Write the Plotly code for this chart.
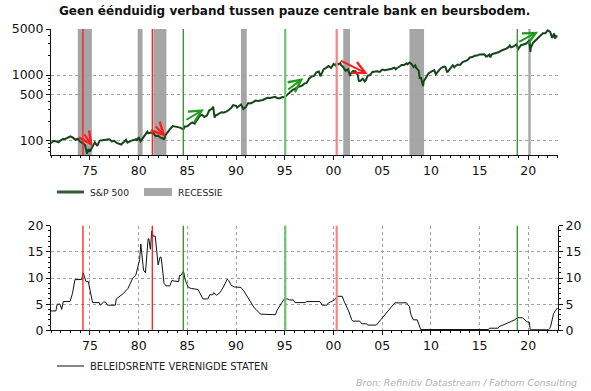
import math
import plotly.graph_objects as go

W, H = 591, 391

# ---------------- data ----------------
sp_year = [1971.0,1971.25,1971.5,1971.75,1972.0,1972.25,1972.5,1972.75,1973.0,1973.25,1973.5,1973.75,
           1974.0,1974.25,1974.5,1974.7,1974.85,1975.0,1975.25,1975.5,1975.75,1976.0,1976.25,1976.5,1976.75,
           1977.0,1977.25,1977.5,1977.75,1978.0,1978.2,1978.5,1978.7,1978.85,1979.0,1979.25,1979.5,1979.75,1979.85,
           1980.0,1980.2,1980.5,1980.75,1980.9,1981.0,1981.25,1981.5,1981.75,1982.0,1982.25,1982.5,1982.6,1982.75,
           1983.0,1983.25,1983.5,1983.75,1984.0,1984.25,1984.5,1984.6,1984.75,1985.0,1985.25,1985.5,1985.75,
           1986.0,1986.25,1986.5,1986.75,1987.0,1987.25,1987.5,1987.65,1987.8,1987.9,1988.0,1988.25,1988.5,1988.75,
           1989.0,1989.25,1989.5,1989.7,1989.85,1990.0,1990.1,1990.25,1990.5,1990.75,1990.9,1991.0,1991.25,1991.5,1991.75,
           1992.0,1992.25,1992.5,1992.75,1993.0,1993.25,1993.5,1993.75,1994.0,1994.25,1994.5,1994.75,
           1995.0,1995.25,1995.5,1995.75,1996.0,1996.25,1996.5,1996.75,1997.0,1997.25,1997.5,1997.75,
           1998.0,1998.25,1998.5,1998.65,1998.75,1999.0,1999.25,1999.5,1999.75,2000.0,2000.2,2000.3,2000.5,2000.7,2000.75,
           2001.0,2001.25,2001.5,2001.7,2001.75,2002.0,2002.25,2002.5,2002.6,2002.75,2003.0,2003.2,2003.35,2003.5,2003.75,
           2004.0,2004.25,2004.5,2004.75,2005.0,2005.25,2005.5,2005.75,2006.0,2006.25,2006.4,2006.5,2006.75,
           2007.0,2007.25,2007.5,2007.6,2007.75,2007.8,2008.0,2008.25,2008.4,2008.5,2008.75,2008.85,2009.0,2009.15,2009.2,
           2009.25,2009.5,2009.75,2010.0,2010.25,2010.35,2010.5,2010.75,2011.0,2011.25,2011.4,2011.5,2011.65,2011.75,
           2012.0,2012.25,2012.4,2012.5,2012.75,2013.0,2013.25,2013.5,2013.75,2014.0,2014.25,2014.5,2014.75,
           2015.0,2015.25,2015.5,2015.65,2015.75,2016.0,2016.1,2016.25,2016.5,2016.75,2017.0,2017.25,2017.5,2017.75,
           2018.0,2018.1,2018.25,2018.5,2018.75,2018.98,2019.25,2019.5,2019.75,2020.0,2020.1,2020.22,2020.25,2020.5,2020.75,
           2021.0,2021.25,2021.5,2021.75,2022.0,2022.25,2022.45,2022.5,2022.65,2022.75,2022.85,2023.0]
sp_value = [92,100,99,95,102,107,108,111,117,112,104,108,
            97,93,86,64,75,69,83,95,84,101,102,104,105,
            106,98,100,93,90,88,97,104,94,97,101,103,106,101,
            114,99,115,126,138,130,134,131,118,120,112,109,104,122,
            140,153,168,166,164,159,152,150,166,167,181,191,182,
            211,238,250,231,242,291,304,330,225,245,247,258,273,271,
            278,294,317,350,340,340,322,339,358,306,322,326,375,371,388,
            410,403,408,418,436,451,450,458,468,446,444,462,
            459,500,545,584,615,645,670,687,740,757,885,947,
            970,1101,1133,957,1017,1229,1286,1373,1282,1469,1400,1498,1455,1517,1436,
            1320,1160,1224,965,1040,1148,1147,990,820,815,880,800,850,975,1000,
            1112,1126,1140,1114,1212,1180,1191,1228,1248,1294,1223,1270,1335,
            1418,1420,1503,1455,1526,1549,1468,1322,1400,1280,1166,900,903,735,676,
            797,919,1057,1115,1169,1187,1030,1141,1258,1326,1345,1320,1120,1131,
            1258,1408,1310,1362,1440,1426,1569,1606,1681,1848,1872,1960,1972,
            2058,2068,2063,1920,1920,2044,1860,2060,2099,2168,2238,2363,2423,2519,
            2673,2820,2640,2718,2914,2506,2834,2942,2977,3231,3380,2237,2584,3100,3363,
            3756,3973,4298,4307,4766,4530,3670,3785,4280,3585,3900,3840]

fed_year = [1971.0,1971.5,1971.64,1971.92,1972.1,1972.26,1972.95,1973.2,1973.46,1974.15,1974.3,1974.6,1974.83,
            1975.27,1975.96,1976.05,1976.4,1976.6,1976.8,1977.6,1977.7,1978.4,1978.9,1979.4,1979.7,1980.0,1980.1,
            1980.22,1980.5,1980.7,1980.97,1981.05,1981.2,1981.35,1981.5,1981.7,1982.0,1982.2,1982.3,1982.4,1982.6,
            1982.8,1983.2,1983.4,1984.1,1984.2,1984.35,1984.6,1984.8,1985.1,1985.4,1986.1,1986.3,1986.6,1987.1,
            1987.3,1987.6,1987.7,1988.0,1988.35,1988.7,1988.85,1989.1,1989.25,1989.5,1989.8,1990.5,1990.8,1991.2,
            1991.35,1991.6,1991.9,1992.05,1992.5,1993.7,1994.05,1994.2,1994.4,1994.7,1994.95,1995.3,1995.5,1995.87,
            1996.05,1997.1,1997.25,1998.6,1998.85,1999.3,1999.45,1999.8,2000.1,2000.4,2000.9,2001.1,2001.5,2001.6,
            2001.87,2002.0,2002.7,2002.9,2003.4,2003.5,2004.4,2006.3,2007.5,2007.8,2007.95,2008.2,2008.6,2008.8,
            2008.95,2015.9,2016.0,2016.9,2017.0,2017.4,2017.7,2018.0,2018.25,2018.6,2018.9,2019.4,2019.6,2019.7,
            2019.9,2020.1,2020.2,2022.05,2022.2,2022.3,2022.4,2022.5,2022.6,2022.8,2023.0]
fed_rate = [3.7,3.7,5.0,5.0,4.0,5.5,5.5,7.0,9.7,9.7,11.0,9.3,9.3,
            5.3,5.3,4.8,5.4,5.4,4.8,4.8,6.0,7.0,8.0,10.0,10.5,13.0,13.5,
            16.5,11.5,11.0,17.5,17.5,15.5,19.0,18.0,18.0,12.5,14.0,14.0,12.5,9.0,
            8.5,8.5,9.5,9.3,10.5,10.5,11.3,9.5,8.2,8.0,7.8,7.0,6.0,6.0,
            6.8,6.8,7.2,6.7,7.2,8.3,9.0,9.8,9.5,8.6,8.3,8.2,7.5,6.2,
            5.8,5.0,4.2,4.0,3.1,3.0,3.0,3.8,4.5,5.3,6.0,6.0,5.8,5.8,
            5.3,5.3,5.5,5.5,4.8,4.8,5.2,5.5,5.8,6.5,6.5,5.5,4.0,3.5,
            2.0,1.75,1.75,1.25,1.25,1.0,1.0,5.25,5.25,4.5,3.0,2.0,2.0,1.0,
            0.15,0.15,0.4,0.4,0.7,1.0,1.2,1.4,1.7,2.0,2.4,2.4,2.1,1.8,
            1.6,1.6,0.1,0.1,0.3,0.8,1.6,2.5,3.2,3.8,4.3]

rec_start = [1973.75, 1979.9, 1981.5, 1990.5, 2001.0, 2007.8, 2020.0]
rec_end   = [1975.2, 1980.4, 1982.85, 1991.1, 2001.7, 2009.3, 2020.25]

pause_year  = [1974.28, 1981.4, 1984.58, 1995.05, 2000.33, 2018.87]
pause_color = ["#ff1a1a", "#ff1a1a", "#2e8b2e", "#6cc46c", "#ff8080", "#2e8b2e"]
pause_width = [1.3, 1.3, 1.3, 2.2, 2.2, 1.3]

arrow_x0 = [1974.32, 1981.6, 1984.75, 1995.2, 2000.6, 2018.9]
arrow_y0 = [132, 175, 203, 580, 1693, 3100]
arrow_x1 = [1975.28, 1982.77, 1986.7, 1996.9, 2003.5, 2021.0]
arrow_y1 = [83, 116, 302, 893, 1038, 4550]
arrow_color = ["#ff1a1a", "#ff1a1a", "#1f9a1f", "#1f9a1f", "#ff1a1a", "#1f9a1f"]

year_ticks = [1975, 1980, 1985, 1990, 1995, 2000, 2005, 2010, 2015, 2020]
year_labels = ["75", "80", "85", "90", "95", "00", "05", "10", "15", "20"]
sp_ticks = [100, 500, 1000, 5000]
sp_minor = [70, 80, 90, 200, 300, 400, 600, 700, 800, 900, 2000, 3000, 4000]
rate_ticks = [0, 5, 10, 15, 20]

title_text = "Geen éénduidig verband tussen pauze centrale bank en beursbodem."
legend_sp = "S&P 500"
legend_rec = "RECESSIE"
legend_fed = "BELEIDSRENTE VERENIGDE STATEN"
source_text = "Bron: Refinitiv Datastream / Fathom Consulting"

# ---------------- layout helpers ----------------
def px(x):
    return x / W

def py(y):
    return 1 - y / H

FONT = "DejaVu Sans"
X_RANGE = [1971.0, 2023.05]

fig = go.Figure()

fig.add_trace(go.Scatter(x=sp_year, y=sp_value, mode="lines",
                         line=dict(color="#17451a", width=2), xaxis="x", yaxis="y",
                         showlegend=False, hoverinfo="skip"))
fig.add_trace(go.Scatter(x=fed_year, y=fed_rate, mode="lines",
                         line=dict(color="#111111", width=1), xaxis="x2", yaxis="y2",
                         showlegend=False, hoverinfo="skip"))
fig.add_trace(go.Scatter(x=fed_year, y=fed_rate, mode="lines",
                         line=dict(color="rgba(0,0,0,0)", width=0), xaxis="x2", yaxis="y3",
                         showlegend=False, hoverinfo="skip"))

shapes = []
for s, e in zip(rec_start, rec_end):
    shapes.append(dict(type="rect", xref="x", yref="y domain", x0=s, x1=e, y0=0, y1=1,
                       fillcolor="#a6a6a6", line=dict(width=0), layer="below"))
for yr, c, w in zip(pause_year, pause_color, pause_width):
    shapes.append(dict(type="line", xref="x", yref="y domain", x0=yr, x1=yr, y0=0, y1=1,
                       line=dict(color=c, width=w), layer="above"))
    shapes.append(dict(type="line", xref="x2", yref="y2 domain", x0=yr, x1=yr, y0=0, y1=1,
                       line=dict(color=c, width=w), layer="above"))

# legend swatches
shapes.append(dict(type="line", xref="paper", yref="paper", x0=px(57), x1=px(84), y0=py(192), y1=py(192),
                   line=dict(color="#2f5f2f", width=3)))
shapes.append(dict(type="rect", xref="paper", yref="paper", x0=px(144), x1=px(172), y0=py(196), y1=py(188),
                   fillcolor="#a6a6a6", line=dict(width=0)))
shapes.append(dict(type="line", xref="paper", yref="paper", x0=px(57), x1=px(84), y0=py(366), y1=py(366),
                   line=dict(color="#111111", width=1)))

annotations = []
for x0, y0, x1, y1, c in zip(arrow_x0, arrow_y0, arrow_x1, arrow_y1, arrow_color):
    annotations.append(dict(x=x1, y=math.log10(y1), ax=x0, ay=math.log10(y0), xref="x", yref="y",
                            axref="x", ayref="y", showarrow=True, arrowhead=5, arrowsize=1.2,
                            arrowwidth=2, arrowcolor=c, text=""))

annotations.append(dict(x=px(294), y=py(11), xref="paper", yref="paper", text="<b>" + title_text + "</b>",
                        showarrow=False, xanchor="center", yanchor="middle",
                        font=dict(family=FONT, size=12, color="#111111")))
annotations.append(dict(x=px(88), y=py(192), xref="paper", yref="paper", text=legend_sp, showarrow=False,
                        xanchor="left", yanchor="middle", font=dict(family=FONT, size=9.2, color="#222222")))
annotations.append(dict(x=px(176), y=py(192), xref="paper", yref="paper", text=legend_rec, showarrow=False,
                        xanchor="left", yanchor="middle", font=dict(family=FONT, size=9.2, color="#222222")))
annotations.append(dict(x=px(88), y=py(366), xref="paper", yref="paper", text=legend_fed, showarrow=False,
                        xanchor="left", yanchor="middle", font=dict(family=FONT, size=10, color="#222222")))
annotations.append(dict(x=px(579), y=py(382), xref="paper", yref="paper", text="<i>" + source_text + "</i>",
                        showarrow=False, xanchor="right", yanchor="middle",
                        font=dict(family=FONT, size=9.3, color="#b0b0b0")))

tickfont = dict(family=FONT, size=12.5, color="#111111")
grid = dict(gridcolor="#a0a0a0", griddash="dot", gridwidth=1)

fig.update_layout(
    width=W, height=H, autosize=False,
    margin=dict(l=0, r=0, t=0, b=0, autoexpand=False),
    paper_bgcolor="white", plot_bgcolor="white",
    showlegend=False,
    shapes=shapes, annotations=annotations,
    xaxis=dict(domain=[px(51), px(558)], anchor="y", range=X_RANGE, automargin=False,
               tickvals=year_ticks, ticktext=year_labels, ticks="outside", ticklen=4,
               tickcolor="#111111", showline=True, linecolor="#111111", linewidth=1,
               showgrid=False, zeroline=False, tickfont=tickfont,
               minor=dict(dtick=1, tick0=1971, ticks="outside", ticklen=2, tickcolor="#111111", showgrid=False)),
    yaxis=dict(domain=[py(155), py(29)], anchor="x", type="log", range=[1.786, 3.699], automargin=False,
               tickvals=sp_ticks, ticktext=[str(v) for v in sp_ticks], ticks="outside", ticklen=4,
               tickcolor="#111111", showline=True, linecolor="#111111", linewidth=1,
               showgrid=True, zeroline=False, tickfont=tickfont,
               minor=dict(tickvals=sp_minor, ticks="outside", ticklen=2, tickcolor="#111111", showgrid=False),
               **grid),
    xaxis2=dict(domain=[px(51), px(558)], anchor="y2", range=X_RANGE, automargin=False,
                tickvals=year_ticks, ticktext=year_labels, ticks="outside", ticklen=4,
                tickcolor="#111111", showline=True, linecolor="#111111", linewidth=1,
                showgrid=True, zeroline=False, tickfont=tickfont,
                minor=dict(dtick=1, tick0=1971, ticks="outside", ticklen=2, tickcolor="#111111", showgrid=False),
                **grid),
    yaxis2=dict(domain=[py(330.3), py(225.7)], anchor="x2", range=[0, 20], automargin=False,
                tickvals=rate_ticks, ticks="outside", ticklen=4,
                tickcolor="#111111", showline=True, linecolor="#111111", linewidth=1,
                showgrid=True, zeroline=False, tickfont=tickfont,
                minor=dict(dtick=1, ticks="outside", ticklen=2, tickcolor="#111111", showgrid=False),
                **grid),
    yaxis3=dict(overlaying="y2", anchor="x2", side="right", range=[0, 20], automargin=False,
                tickvals=rate_ticks, ticks="outside", ticklen=4,
                tickcolor="#111111", showline=True, linecolor="#111111", linewidth=1,
                showgrid=False, zeroline=False, tickfont=tickfont,
                minor=dict(dtick=1, ticks="outside", ticklen=2, tickcolor="#111111", showgrid=False)),
)

fig.write_html("out.html", config={"displayModeBar": False, "staticPlot": True},
               post_script="document.body.style.margin='0';document.body.style.overflow='hidden';")
